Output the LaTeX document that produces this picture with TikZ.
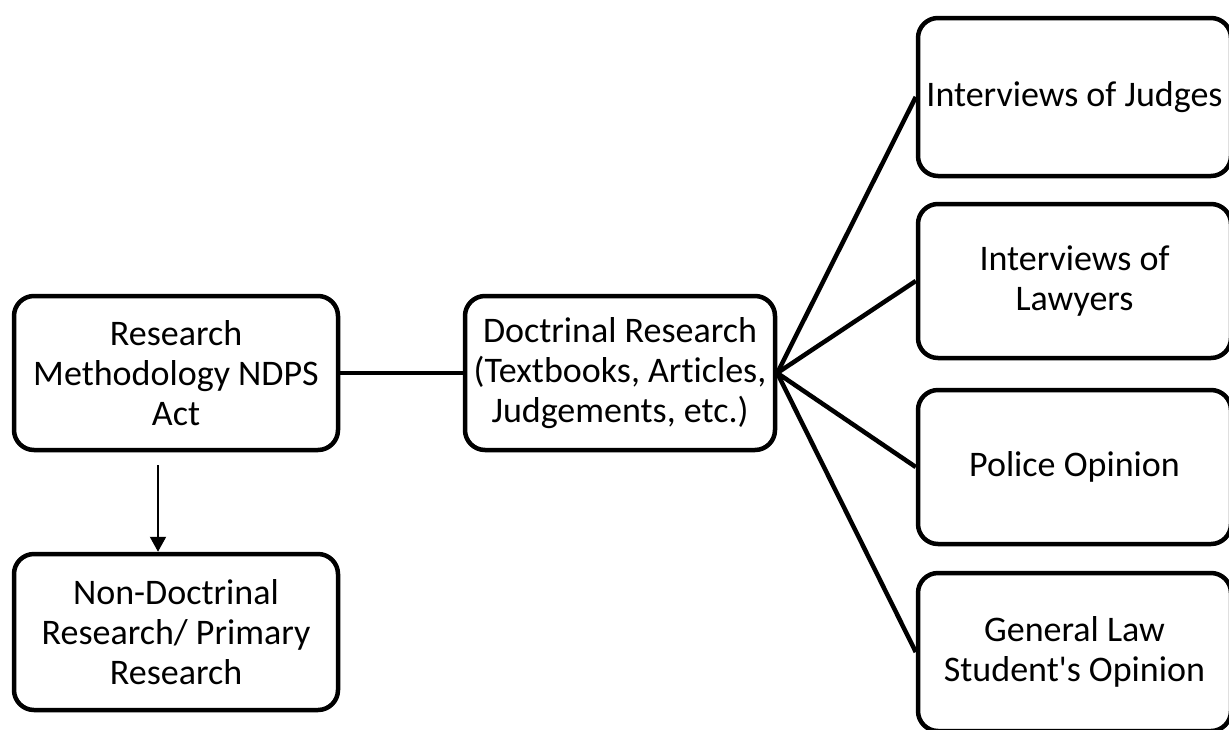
\documentclass[tikz,border=0pt]{standalone}
\usepackage{fontspec}
\setmainfont[Ligatures=NoCommon]{Carlito}
\usetikzlibrary{arrows.meta}
\begin{document}
\begin{tikzpicture}[x=1pt,y=-1pt,
  box/.style={draw=black, line width=4.5pt, rounded corners=20pt, align=center,
    inner sep=0pt, font=\fontsize{36}{40}\selectfont, fill=white},
  conn/.style={draw=black, line width=4.5pt},
  arr/.style={draw=black, line width=2pt, -{Triangle[length=15pt,width=16pt]}}]
\useasboundingbox (0,0) rectangle (1229,729);
\fill[white] (0,0) rectangle (1229,729);
\node[box, minimum width=324pt, minimum height=154pt] (A) at (176,373) {Research\\Methodology NDPS\\Act};
\node[box, minimum width=324pt, minimum height=156pt] (B) at (176,632) {Non-Doctrinal\\Research/ Primary\\Research};
\node[box, minimum width=310pt, minimum height=154pt] (C) at (620,373) {Doctrinal Research\\(Textbooks, Articles,\\Judgements, etc.)};
\node[box, minimum width=313pt, minimum height=158pt] (R1) at (1074.5,97) {Interviews of Judges};
\node[box, minimum width=313pt, minimum height=154pt] (R2) at (1074.5,281) {Interviews of\\Lawyers};
\node[box, minimum width=313pt, minimum height=154pt] (R3) at (1074.5,467) {Police Opinion};
\node[box, minimum width=313pt, minimum height=158pt] (R4) at (1074.5,652) {General Law\\Student\textquotesingle s Opinion};
\coordinate (s) at (158,465);
\draw[conn] (A.east) -- (C.west);
\draw[conn] (C.east) -- (R1.west);
\draw[conn] (C.east) -- (R2.west);
\draw[conn] (C.east) -- (R3.west);
\draw[conn] (C.east) -- (R4.west);
\draw[arr] (s) -- (s |- B.north);
\end{tikzpicture}
\end{document}
